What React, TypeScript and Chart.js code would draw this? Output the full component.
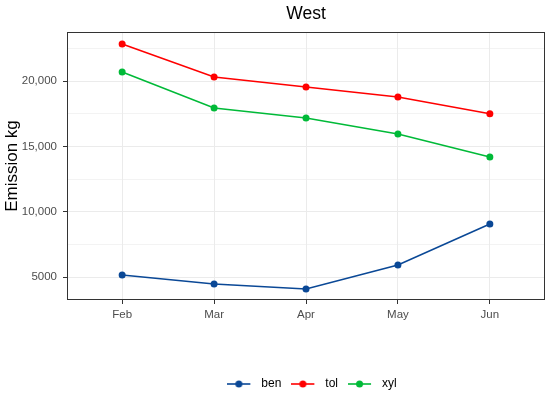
import React, { useEffect, useRef } from "react";
import { Chart, registerables } from "chart.js";

Chart.register(...registerables);

const months = ["Feb", "Mar", "Apr", "May", "Jun"];
const ben = [5150, 4460, 4080, 5920, 9050];
const tol = [22830, 20300, 19540, 18775, 17500];
const xyl = [20690, 17930, 17170, 15940, 14180];
const yTicks = [5000, 7500, 10000, 12500, 15000, 17500, 20000, 22500];
const colors = { ben: "#0a4896", tol: "#ff0000", xyl: "#00ba38" };

const FONT = "'Liberation Sans', Arial, sans-serif";

function legendImage(color: string) {
  const c = document.createElement("canvas");
  c.width = 28;
  c.height = 10;
  const ctx = c.getContext("2d")!;
  ctx.strokeStyle = color;
  ctx.lineWidth = 1.6;
  ctx.beginPath();
  ctx.moveTo(0, 5);
  ctx.lineTo(23, 5);
  ctx.stroke();
  ctx.fillStyle = color;
  ctx.beginPath();
  ctx.arc(11.5, 5, 3.5, 0, Math.PI * 2);
  ctx.fill();
  return c;
}

const framePlugin = {
  id: "frame",
  afterLayout(chart: any) {
    if (chart.legend) {
      chart.legend.left += 6;
      chart.legend.right += 6;
    }
  },
  afterDatasetsDraw(chart: any) {
    const { ctx, chartArea } = chart;
    ctx.save();
    ctx.strokeStyle = "#333333";
    ctx.lineWidth = 1;
    ctx.strokeRect(
      Math.round(chartArea.left) + 0.5,
      Math.round(chartArea.top) + 0.5,
      Math.round(chartArea.right - chartArea.left) - 1,
      Math.round(chartArea.bottom - chartArea.top) - 1
    );
    ctx.fillStyle = "#000000";
    ctx.font = `17.5px ${FONT}`;
    ctx.textAlign = "center";
    ctx.textBaseline = "middle";
    ctx.fillText("West", (chartArea.left + chartArea.right) / 2, 14);
    ctx.restore();
  },
};

export default function App() {
  const ref = useRef<HTMLCanvasElement>(null);
  useEffect(() => {
    if (!ref.current) return;
    const mk = (label: string, vals: number[], color: string) => ({
      label,
      data: vals.map((v, i) => ({ x: i, y: v })),
      borderColor: color,
      backgroundColor: color,
      pointBackgroundColor: color,
      pointBorderWidth: 0,
      pointRadius: 3.5,
      borderWidth: 1.6,
      pointStyle: "circle" as any,
      _img: legendImage(color),
      tension: 0,
    });
    const chart = new Chart(ref.current, {
      type: "line",
      data: {
        datasets: [
          mk("ben", ben, colors.ben),
          mk("tol", tol, colors.tol),
          mk("xyl", xyl, colors.xyl),
        ] as any,
      },
      options: {
        animation: false,
        responsive: true,
        maintainAspectRatio: false,
        layout: { padding: { top: 32, right: 5, left: 0, bottom: -7 } },
        scales: {
          x: {
            type: "linear",
            min: -0.6,
            max: 4.6,
            afterBuildTicks: (s: any) => {
              s.ticks = months.map((_, i) => ({ value: i }));
            },
            afterFit: (s: any) => {
              s.height = 68;
            },
            ticks: {
              callback: (v: any) => months[v as number] ?? "",
              color: "#4d4d4d",
              font: { family: FONT, size: 11.5 },
              padding: 4,
              maxRotation: 0,
            },
            grid: {
              color: "#ebebeb",
              lineWidth: 1,
              tickLength: 4,
              tickColor: "#333333",
            },
            border: { display: false },
          },
          y: {
            type: "linear",
            min: 3240,
            max: 23750,
            afterBuildTicks: (s: any) => {
              s.ticks = yTicks.map((v) => ({ value: v }));
            },
            afterFit: (s: any) => {
              s.width = 67;
            },
            title: {
              display: true,
              text: "Emission kg",
              color: "#000000",
              font: { family: FONT, size: 17 },
              padding: { top: 2, bottom: 0 },
            },
            ticks: {
              callback: (v: any) => {
                const n = v as number;
                if (n % 5000 !== 0) return "";
                return n >= 10000 ? n.toLocaleString("en-US") : String(n);
              },
              color: "#4d4d4d",
              font: { family: FONT, size: 11.5 },
              padding: 6,
            },
            grid: {
              color: "#ebebeb",
              lineWidth: (c: any) => (c.tick && c.tick.value % 5000 === 0 ? 1 : 0.6),
              tickLength: 4,
              tickColor: (c: any) =>
                c.tick && c.tick.value % 5000 === 0 ? "#333333" : "rgba(0,0,0,0)",
            },
            border: { display: false },
          },
        },
        plugins: {
          title: { display: false },
          tooltip: { enabled: false },
          legend: {
            display: true,
            position: "bottom",
            fullSize: false,
            labels: {
              usePointStyle: true,
              pointStyleWidth: 28,
              padding: 10,
              color: "#000000",
              font: { family: FONT, size: 12 },
              generateLabels: (ch: any) =>
                ch.data.datasets.map((d: any, i: number) => ({
                  text: d.label,
                  pointStyle: d._img,
                  fillStyle: d.borderColor,
                  strokeStyle: d.borderColor,
                  lineWidth: 0,
                  fontColor: "#000000",
                  hidden: false,
                  datasetIndex: i,
                })),
            },
          },
        },
      },
      plugins: [framePlugin],
    });
    return () => chart.destroy();
  }, []);
  return (
    <div style={{ position: "fixed", left: 0, top: 0, width: 550, height: 393, background: "#fff" }}>
      <canvas ref={ref} />
    </div>
  );
}
